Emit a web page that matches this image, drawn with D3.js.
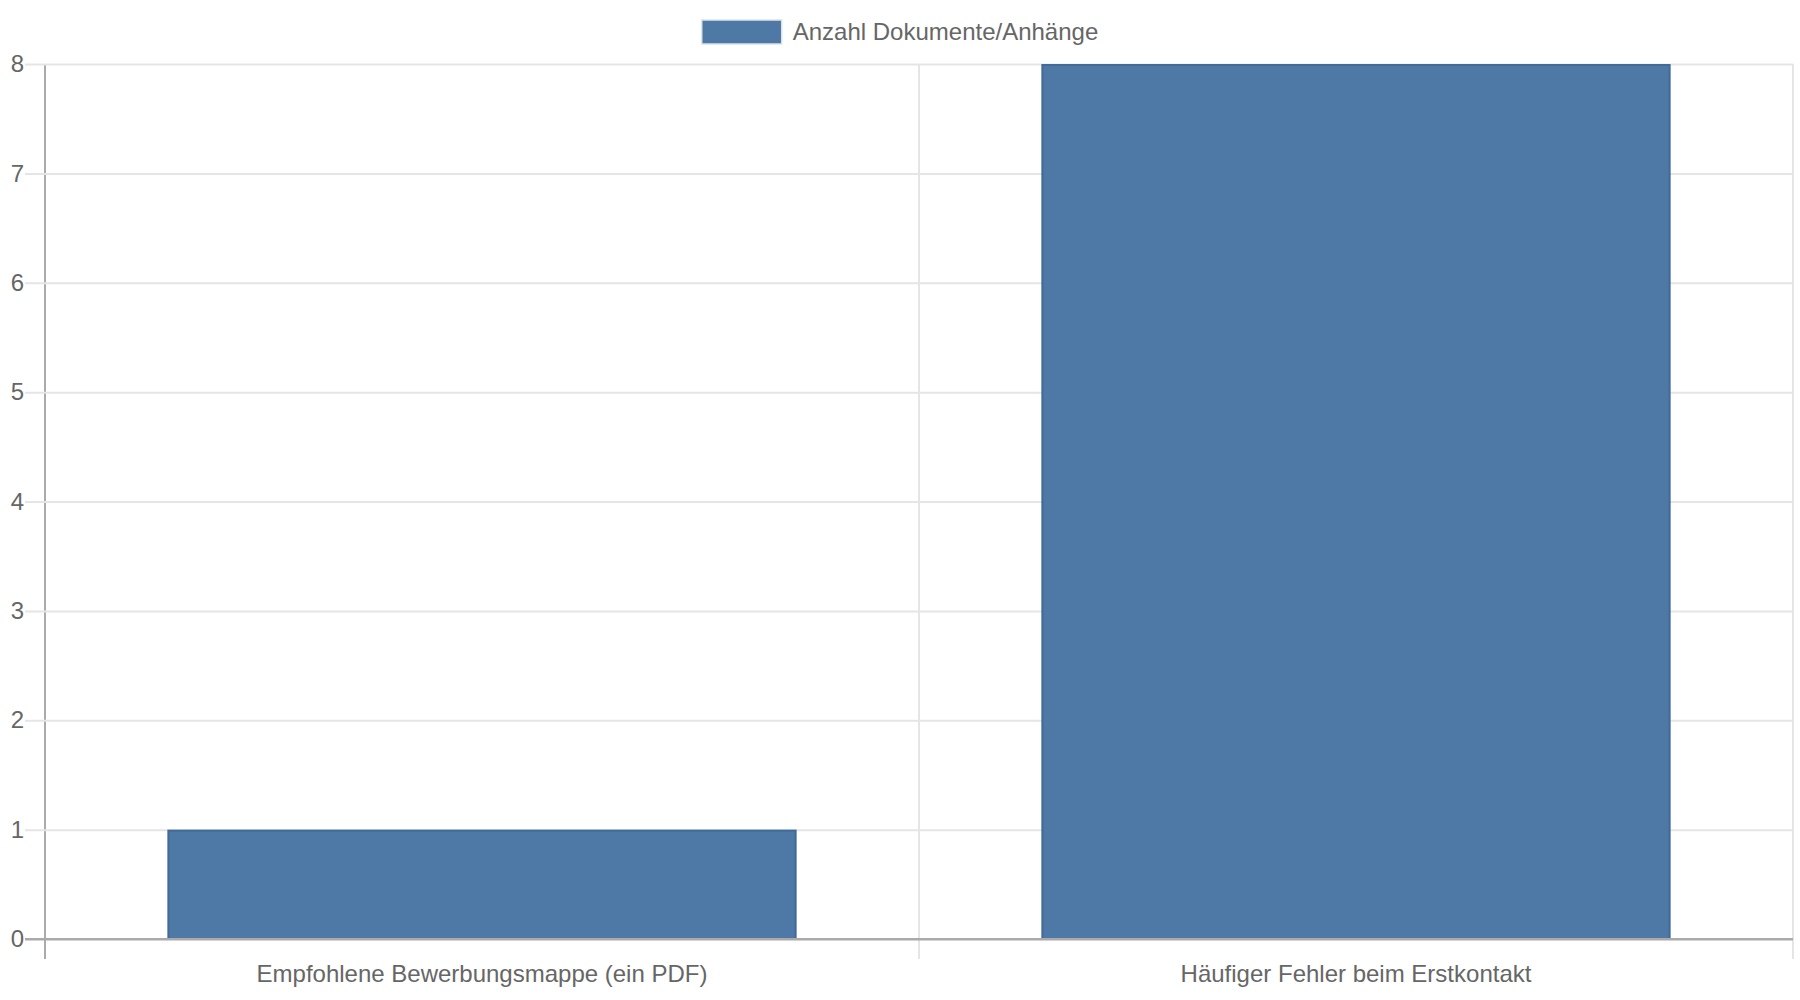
<!DOCTYPE html>
<html>
<head>
<meta charset="utf-8">
<script src="https://cdn.jsdelivr.net/npm/d3@7"></script>
<style>
  html, body { margin: 0; padding: 0; background: #fff; }
  svg text { font-family: "Liberation Sans", Arial, sans-serif; fill: #666; }
</style>
</head>
<body>
<svg id="chart"></svg>
<script>
const categories = ['Empfohlene Bewerbungsmappe (ein PDF)', 'Häufiger Fehler beim Erstkontakt'];
const values = [1, 8];
const seriesName = 'Anzahl Dokumente/Anhänge';
const yTicks = [0, 1, 2, 3, 4, 5, 6, 7, 8];

const width = 1800;
const height = 1000;
const margin = {top: 64, right: 7, bottom: 61, left: 45};
const tickLen = 20;
const fontSize = 24;
const barFill = '#4e79a7';
const barStroke = '#41699a';
const gridColor = '#e5e5e5';
const axisColor = '#aaaaaa';

const svg = d3.select('#chart')
  .attr('width', width)
  .attr('height', height);

const plotRight = width - margin.right;
const plotBottom = height - margin.bottom;

// category slots (gridlines) and bars inside them (0.8 * 0.9 of the slot)
const xSlot = d3.scaleBand()
  .domain(categories)
  .range([margin.left, plotRight]);

const x = d3.scaleBand()
  .domain(categories)
  .range([margin.left, plotRight])
  .paddingInner(0.28)
  .paddingOuter(0.14);

const y = d3.scaleLinear()
  .domain([0, d3.max(yTicks)])
  .range([plotBottom, margin.top]);

// vertical gridlines at slot boundaries, running down as tick marks
const bounds = categories.map(c => xSlot(c)).concat([plotRight]);
svg.append('g')
  .selectAll('line')
  .data(bounds)
  .join('line')
  .attr('x1', d => d)
  .attr('x2', d => d)
  .attr('y1', margin.top)
  .attr('y2', plotBottom + tickLen)
  .attr('stroke', (d, i) => i === 0 ? axisColor : gridColor)
  .attr('stroke-width', 2);

// y axis with horizontal gridlines
const yAxis = d3.axisLeft(y)
  .tickValues(yTicks)
  .tickSizeInner(-(plotRight - margin.left + tickLen))
  .tickSizeOuter(0)
  .tickPadding(1);

const yg = svg.append('g')
  .attr('transform', 'translate(' + (margin.left - tickLen) + ',0)')
  .call(yAxis);
yg.select('.domain').remove();
yg.selectAll('.tick line')
  .attr('stroke', d => d === 0 ? axisColor : gridColor)
  .attr('stroke-width', 2);
yg.selectAll('.tick text')
  .style('font-size', fontSize + 'px')
  .attr('fill', '#666');

// bars
svg.append('g')
  .selectAll('rect')
  .data(categories)
  .join('rect')
  .attr('x', d => x(d) + 1)
  .attr('y', (d, i) => y(values[i]) + 1)
  .attr('width', x.bandwidth() - 2)
  .attr('height', (d, i) => y(0) - y(values[i]) - 1)
  .attr('fill', barFill)
  .attr('stroke', barStroke)
  .attr('stroke-width', 2);

// zero line redrawn on top of the bars
svg.append('line')
  .attr('x1', margin.left - tickLen)
  .attr('x2', plotRight)
  .attr('y1', y(0))
  .attr('y2', y(0))
  .attr('stroke', axisColor)
  .attr('stroke-width', 2);

// x axis labels
const xAxis = d3.axisBottom(x)
  .tickSize(0)
  .tickPadding(26);

const xg = svg.append('g')
  .attr('transform', 'translate(0,' + plotBottom + ')')
  .call(xAxis);
xg.select('.domain').remove();
xg.selectAll('.tick text')
  .style('font-size', fontSize + 'px')
  .attr('fill', '#666');

// legend, centred on the canvas
const legend = svg.append('g');
const legendText = legend.append('text')
  .attr('y', 32)
  .attr('dy', '0.35em')
  .style('font-size', fontSize + 'px')
  .text(seriesName);
const boxW = 80;
const gap = 11;
const textW = legendText.node().getComputedTextLength();
const startX = (width - (boxW + gap + textW)) / 2;
legend.insert('rect', 'text')
  .attr('x', startX)
  .attr('y', 20)
  .attr('width', boxW)
  .attr('height', 24)
  .attr('fill', barFill)
  .attr('stroke', '#dde3ea')
  .attr('stroke-width', 1.5);
legendText.attr('x', startX + boxW + gap);
</script>
</body>
</html>
